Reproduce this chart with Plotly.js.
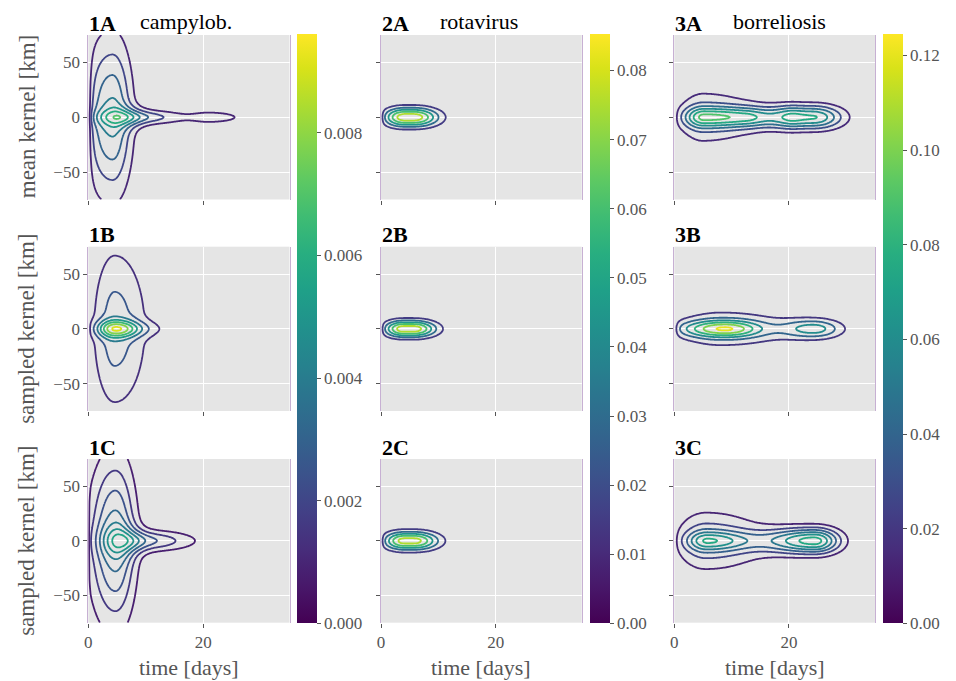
<!DOCTYPE html>
<html><head><meta charset="utf-8">
<script src="https://cdn.plot.ly/plotly-3.0.1.min.js"></script>
<style>html,body{margin:0;padding:0;background:#fff}#chart{width:956px;height:681px}</style>
</head><body><div id="chart"></div>
<script>
// ---------------- data ----------------
const diseases = ['campylob.', 'rotavirus', 'borreliosis'];
const rowLetters = ['A', 'B', 'C'];
const rowTitles = ['mean kernel [km]', 'sampled kernel [km]', 'sampled kernel [km]'];
const timeTicks = [0, 20];
const distTicks = [-50, 0, 50];
const timeRange = [0, 35];
const distRange = [-75, 75];
const colorbarMax = [0.0096, 0.0852, 0.1244];
const colorbarStep = [0.002, 0.01, 0.02];
const colorbarFormat = ['.3f', '.2f', '.2f'];

// contour levels per panel: [first, step, last]
const levels1A = [0.001, 0.001, 0.007];
const levels1B = [0.0013, 0.0013, 0.0091];
const levels1C = [0.0008, 0.0008, 0.0056];
const levels2A = [0.015, 0.015, 0.075];
const levels2B = [0.015, 0.015, 0.075];
const levels2C = [0.015, 0.015, 0.075];
const levels3A = [0.015, 0.015, 0.090];
const levels3B = [0.02, 0.02, 0.12];
const levels3C = [0.0125, 0.0125, 0.075];

// density blobs:
// [peak density, centre day, spread before centre (days), spread after centre (days), spatial spread (km), flat-top half-width (days)]
const blobs1A = [[0.0042, 4.2, 3.5, 2.3, 47], [0.0018, 6.5, 3.0, 2.5, 7.5], [0.0024, 9.5, 5.0, 5.5, 4.5], [0.0015, 21.5, 2.5, 4.2, 4.0]];
const blobs1B = [[0.0033, 4.6, 2.6, 3.8, 49], [0.0053, 4.6, 2.2, 2.6, 5.5], [0.0015, 8.0, 3.0, 4.0, 5.0]];
const blobs1C = [[0.00367, 4.7, 3.0, 2.4, 50], [0.0017, 5.5, 2.5, 2.5, 11], [0.0025, 9.5, 3.0, 6.0, 6.5]];
const blobs2A = [[0.085, 4.9, 2.5, 3.0, 6.0, 0.8]];
const blobs2B = [[0.085, 4.8, 2.4, 2.8, 5.3, 0.8]];
const blobs2C = [[0.082, 4.9, 2.5, 3.0, 5.8, 0.8]];
const blobs3A = [[0.030, 5.0, 3.0, 7.0, 18], [0.066, 8.8, 2.5, 4.0, 6.5, 3.5], [0.075, 22.8, 3.0, 3.5, 7.5, 1.5]];
const blobs3B = [[0.035, 8.0, 5.0, 9.0, 13], [0.089, 9.0, 5.7, 4.3, 5.3], [0.065, 24.5, 4.0, 3.3, 6.0]];
const blobs3C = [[0.035, 5.5, 3.5, 7.0, 18], [0.042, 5.8, 2.5, 5.3, 6.0], [0.080, 24.5, 6.0, 3.0, 8.0]];
// onset time-scale at day 0 (days)
const onset = [0.5, 0.3, 0.3, 0.2, 0.3, 0.5, 0.1, 0.3, 0.3];

const panelBlobs = [blobs1A, blobs2A, blobs3A, blobs1B, blobs2B, blobs3B, blobs1C, blobs2C, blobs3C];
const panelLevels = [levels1A, levels2A, levels3A, levels1B, levels2B, levels3B, levels1C, levels2C, levels3C];

// ---------------- styles ----------------
const VIRIDIS = [[0,'#440154'],[0.0627,'#48186a'],[0.1255,'#472d7b'],[0.1882,'#424086'],[0.2510,'#3b528b'],
  [0.3137,'#33638d'],[0.3765,'#2c728e'],[0.4392,'#26828e'],[0.5020,'#21918c'],[0.5647,'#1fa088'],
  [0.6275,'#28ae80'],[0.6902,'#3fbc73'],[0.7529,'#5ec962'],[0.8157,'#84d44b'],[0.8784,'#addc30'],
  [0.9412,'#d8e219'],[1,'#fde725']];
function hexRgb(h) { return [1, 3, 5].map(k => parseInt(h.slice(k, k + 2), 16)); }
function viridisAt(f) {
  f = Math.max(0, Math.min(1, f));
  for (let k = 1; k < VIRIDIS.length; k++) {
    if (f <= VIRIDIS[k][0]) {
      const [f0, c0] = VIRIDIS[k - 1], [f1, c1] = VIRIDIS[k];
      const u = (f - f0) / (f1 - f0), a = hexRgb(c0), b = hexRgb(c1);
      return 'rgb(' + a.map((v, j) => Math.round(v + (b[j] - v) * u)).join(',') + ')';
    }
  }
  return VIRIDIS[VIRIDIS.length - 1][1];
}

// ---------------- layout geometry (pixels) ----------------
const W = 956, H = 681;
const colLeft = [88.3, 381.0, 674.3], colRight = [289.5, 581.7, 875.0];
const rowTop = [35.0, 246.7, 459.0], rowBottom = [199.5, 411.0, 622.7];
const cbLeft = [296.8, 589.8, 882.8], cbTop = 34.5, cbBottom = 623;
const FONT = 'Liberation Serif, Times New Roman, serif';
const GREY = '#555555';

// grid on which the density is sampled
const tGrid = [], xGrid = [];
for (let t = timeRange[0]; t <= timeRange[1] + 1e-9; t += 0.2) tGrid.push(+t.toFixed(2));
for (let x = distRange[0]; x <= distRange[1] + 1e-9; x += 1) xGrid.push(x);

function density(blobs, tau, t, x) {
  let s = 0;
  for (const [w, tc, sl, sr, sx, flat = 0] of blobs) {
    let d = t - tc;
    d = Math.abs(d) <= flat ? 0 : d - Math.sign(d) * flat;
    const st = d < 0 ? sl : sr;
    s += w * Math.exp(-d * d / (2 * st * st) - x * x / (2 * sx * sx));
  }
  return s * (1 - Math.exp(-t / tau));
}

const traces = [];
const layout = {
  width: W, height: H, margin: {l: 0, r: 0, t: 0, b: 0},
  paper_bgcolor: '#ffffff', plot_bgcolor: '#e5e5e5',
  showlegend: false, annotations: [], font: {family: FONT, color: GREY}
};

for (let r = 0; r < 3; r++) {
  for (let c = 0; c < 3; c++) {
    const i = r * 3 + c, id = i + 1;
    const xa = 'xaxis' + (id === 1 ? '' : id), ya = 'yaxis' + (id === 1 ? '' : id);
    const xs = 'x' + (id === 1 ? '' : id), ys = 'y' + (id === 1 ? '' : id);
    layout[xa] = {
      domain: [colLeft[c] / W, colRight[c] / W], anchor: ys, range: timeRange,
      tickvals: timeTicks, ticks: 'outside', ticklen: 4, tickwidth: 1, tickcolor: GREY,
      showticklabels: r === 2, tickfont: {family: FONT, size: 17, color: GREY},
      showgrid: true, gridcolor: '#ffffff', gridwidth: 1, zeroline: false, showline: false
    };
    layout[ya] = {
      domain: [1 - rowBottom[r] / H, 1 - rowTop[r] / H], anchor: xs, range: distRange,
      tickvals: distTicks, ticks: 'outside', ticklen: 4, tickwidth: 1, tickcolor: GREY,
      showticklabels: c === 0, tickfont: {family: FONT, size: 17, color: GREY},
      showgrid: true, gridcolor: '#ffffff', gridwidth: 1, zeroline: false,
      showline: true, mirror: true, linecolor: '#c7b0d3', linewidth: 1
    };
    const z = xGrid.map(x => tGrid.map(t => density(panelBlobs[i], onset[i], t, x)));
    const lv = panelLevels[i];
    const n = Math.round((lv[2] - lv[0]) / lv[1]) + 1;
    // each contour level gets the colour of its value on the column's colour bar
    const scale = [];
    for (let k = 0; k < n; k++) scale.push([k / (n - 1), viridisAt((lv[0] + k * lv[1]) / colorbarMax[c])]);
    traces.push({
      type: 'contour', x: tGrid, y: xGrid, z: z, xaxis: xs, yaxis: ys,
      colorscale: scale, showscale: false,
      autocontour: false, contours: {coloring: 'lines', start: lv[0], end: lv[2] + lv[1] * 1e-3, size: lv[1]},
      line: {width: 1.8, smoothing: 1}, hoverinfo: 'skip'
    });
    layout.annotations.push({
      text: '<b>' + (c + 1) + rowLetters[r] + '</b>', xref: 'paper', yref: 'paper',
      x: (colLeft[c] - 1) / W, y: 1 - (rowTop[r] - 12) / H, xanchor: 'left', yanchor: 'middle',
      showarrow: false, font: {family: FONT, size: 22, color: '#000'}
    });
  }
}
// column titles
const titleLeft = [138, 438, 731];
for (let c = 0; c < 3; c++) {
  layout.annotations.push({
    text: diseases[c], xref: 'paper', yref: 'paper', x: titleLeft[c] / W, y: 1 - 21 / H,
    xanchor: 'left', yanchor: 'middle', showarrow: false, font: {family: FONT, size: 22, color: '#000'}
  });
  layout.annotations.push({
    text: 'time [days]', xref: 'paper', yref: 'paper', x: (colLeft[c] + colRight[c]) / 2 / W, y: 1 - 667 / H,
    xanchor: 'center', yanchor: 'middle', showarrow: false, font: {family: FONT, size: 22, color: GREY}
  });
  // hidden trace that carries the column's colorbar
  traces.push({
    type: 'scatter', mode: 'markers', x: [null], y: [null], xaxis: 'x' + (c === 0 ? '' : c + 1), yaxis: 'y' + (c === 0 ? '' : c + 1),
    hoverinfo: 'skip', showlegend: false,
    marker: {color: [0], cmin: 0, cmax: colorbarMax[c], colorscale: 'Viridis', showscale: true,
      colorbar: {x: cbLeft[c] / W, xanchor: 'left', xpad: 0, ypad: 0, y: 1 - cbTop / H, yanchor: 'top',
        len: (cbBottom - cbTop) / H, lenmode: 'fraction', thickness: 19.5, thicknessmode: 'pixels',
        outlinewidth: 0, ticks: 'outside', ticklen: 4, tickcolor: GREY, tickwidth: 1,
        tick0: 0, dtick: colorbarStep[c], tickformat: colorbarFormat[c],
        tickfont: {family: FONT, size: 17, color: GREY}}}
  });
}
for (let r = 0; r < 3; r++) {
  layout.annotations.push({
    text: rowTitles[r], xref: 'paper', yref: 'paper', x: 27 / W, y: 1 - (rowTop[r] + rowBottom[r]) / 2 / H,
    xanchor: 'center', yanchor: 'middle', textangle: -90, showarrow: false, font: {family: FONT, size: 23, color: GREY}
  });
}
Plotly.newPlot('chart', traces, layout, {displayModeBar: false, staticPlot: true});
</script></body></html>
